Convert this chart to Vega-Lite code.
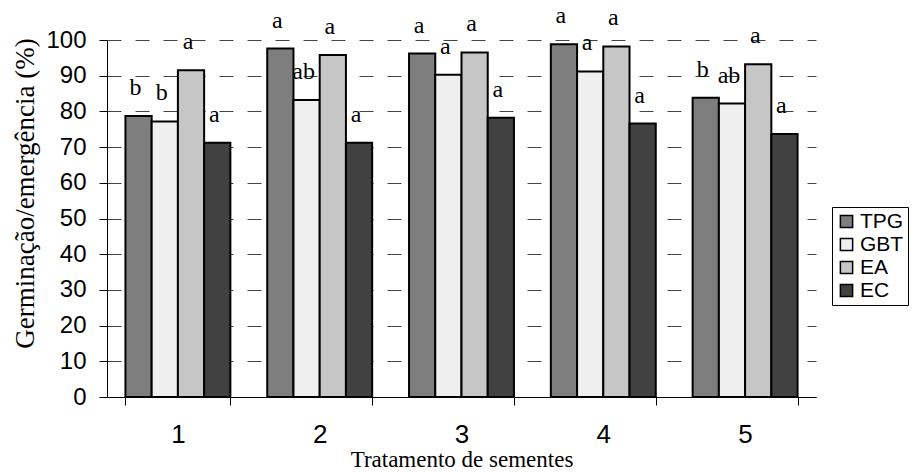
{
  "$schema": "https://vega.github.io/schema/vega-lite/v6.json",
  "width": 709,
  "height": 357,
  "autosize": {"type": "none"},
  "padding": {"left": 107, "top": 40, "right": 104, "bottom": 77},
  "background": "white",
  "config": {
    "view": {"stroke": null},
    "axis": {"domainColor": "black", "tickColor": "black", "labelColor": "black", "titleColor": "black"}
  },
  "data": {
    "values": [
      {"t": "1", "m": "TPG", "v": 78.7, "l": "b"},
      {"t": "1", "m": "GBT", "v": 77.2, "l": "b"},
      {"t": "1", "m": "EA", "v": 91.5, "l": "a"},
      {"t": "1", "m": "EC", "v": 71.2, "l": "a"},
      {"t": "2", "m": "TPG", "v": 97.6, "l": "a"},
      {"t": "2", "m": "GBT", "v": 83.2, "l": "ab"},
      {"t": "2", "m": "EA", "v": 95.8, "l": "a"},
      {"t": "2", "m": "EC", "v": 71.2, "l": "a"},
      {"t": "3", "m": "TPG", "v": 96.2, "l": "a"},
      {"t": "3", "m": "GBT", "v": 90.3, "l": "a"},
      {"t": "3", "m": "EA", "v": 96.5, "l": "a"},
      {"t": "3", "m": "EC", "v": 78.2, "l": "a"},
      {"t": "4", "m": "TPG", "v": 98.8, "l": "a"},
      {"t": "4", "m": "GBT", "v": 91.2, "l": "a"},
      {"t": "4", "m": "EA", "v": 98.2, "l": "a"},
      {"t": "4", "m": "EC", "v": 76.6, "l": "a"},
      {"t": "5", "m": "TPG", "v": 83.8, "l": "b"},
      {"t": "5", "m": "GBT", "v": 82.2, "l": "ab"},
      {"t": "5", "m": "EA", "v": 93.2, "l": "a"},
      {"t": "5", "m": "EC", "v": 73.7, "l": "a"}
    ]
  },
  "encoding": {
    "x": {
      "field": "t", "type": "nominal",
      "scale": {"paddingInner": 0.26, "paddingOuter": 0.13},
      "axis": {
        "title": "Tratamento de sementes", "labelAngle": 0,
        "tickBand": "extent", "tickSize": 8, "labelPadding": 16,
        "labelFont": "Liberation Sans", "labelFontSize": 26,
        "titleFont": "Liberation Serif", "titleFontSize": 23, "titleFontWeight": "normal",
        "titleY": 69, "titleBaseline": "alphabetic"
      }
    },
    "xOffset": {"field": "m", "type": "nominal", "sort": ["TPG", "GBT", "EA", "EC"], "scale": {"paddingInner": 0, "paddingOuter": 0}},
    "y": {
      "field": "v", "type": "quantitative",
      "scale": {"domain": [0, 100], "nice": false},
      "axis": {
        "title": "Germinação/emergência (%)", "values": [0, 10, 20, 30, 40, 50, 60, 70, 80, 90, 100],
        "tickSize": 8, "labelPadding": 13,
        "labelFont": "Liberation Sans", "labelFontSize": 24,
        "grid": true, "gridColor": "#444", "gridDash": [14, 14], "gridWidth": 1,
        "titleFont": "Liberation Serif", "titleFontSize": 27, "titleFontWeight": "normal",
        "titleX": -82, "titleY": 153, "titleAlign": "center", "titleBaseline": "middle", "titleAngle": 270
      }
    }
  },
  "layer": [
    {
      "mark": {"type": "bar", "stroke": "black", "strokeWidth": 2},
      "encoding": {
        "fill": {
          "field": "m", "type": "nominal",
          "scale": {"domain": ["TPG", "GBT", "EA", "EC"], "range": ["#7e7e7e", "#efefef", "#c6c6c6", "#414141"]},
          "legend": {
            "title": null, "orient": "none", "legendX": 725, "legendY": 167,
            "labelFont": "Liberation Sans", "labelFontSize": 21, "labelColor": "black", "labelOffset": 3,
            "symbolType": "square", "symbolSize": 150, "symbolStrokeColor": "black", "symbolStrokeWidth": 1.5,
            "rowPadding": 1, "padding": 4, "strokeColor": "black", "fillColor": "white"
          }
        }
      }
    },
    {
      "mark": {"type": "text", "font": "Liberation Serif", "fontSize": 24, "baseline": "alphabetic", "dy": -21, "dx": -3, "color": "black"},
      "encoding": {"text": {"field": "l"}}
    }
  ]
}
